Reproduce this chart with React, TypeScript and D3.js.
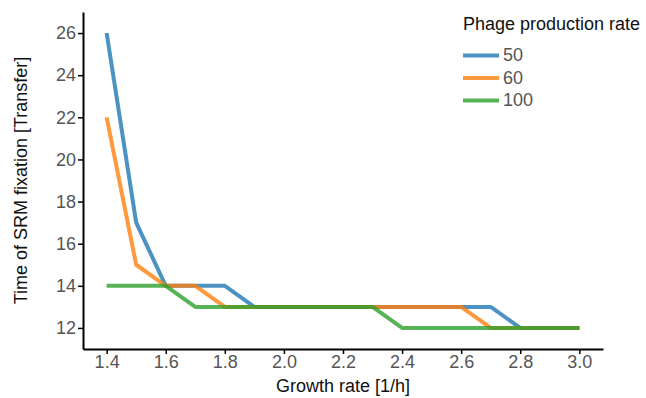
import * as d3 from "d3";
import { useEffect, useRef } from "react";

const GROWTH = [1.4, 1.5, 1.6, 1.7, 1.8, 1.9, 2.0, 2.1, 2.2, 2.3, 2.4, 2.5, 2.6, 2.7, 2.8, 2.9, 3.0];
const RATES = ["50", "60", "100"];
const FIX_50 = [26, 17, 14, 14, 14, 13, 13, 13, 13, 13, 13, 13, 13, 13, 12, 12, 12];
const FIX_60 = [22, 15, 14, 14, 13, 13, 13, 13, 13, 13, 13, 13, 13, 12, 12, 12, 12];
const FIX_100 = [14, 14, 14, 13, 13, 13, 13, 13, 13, 13, 12, 12, 12, 12, 12, 12, 12];
const X_TICKS = [1.4, 1.6, 1.8, 2.0, 2.2, 2.4, 2.6, 2.8, 3.0];
const Y_TICKS = [12, 14, 16, 18, 20, 22, 24, 26];
const COLORS = ["#1f77b4", "#ff7f0e", "#2ca02c"];

export default function App() {
  const ref = useRef<SVGSVGElement | null>(null);
  useEffect(() => {
    if (!ref.current) return;
    const width = 646;
    const height = 398;
    const margin = { top: 12, right: 43, bottom: 49, left: 83 };
    const svg = d3.select(ref.current);
    svg.selectAll("*").remove();
    const font = "'Liberation Sans', Arial, sans-serif";
    const fs = 18;

    const x = d3.scaleLinear().domain([1.32, 3.08]).range([margin.left, width - margin.right]);
    const y = d3.scaleLinear().domain([11, 27]).range([height - margin.bottom, margin.top]);

    const series = [FIX_50, FIX_60, FIX_100];
    const line = d3
      .line<number>()
      .x((_, i) => x(GROWTH[i]))
      .y((d) => y(d));

    svg
      .append("g")
      .selectAll("path")
      .data(series)
      .join("path")
      .attr("d", (d) => line(d))
      .attr("fill", "none")
      .attr("stroke", (_, i) => COLORS[i])
      .attr("stroke-opacity", 0.8)
      .attr("stroke-width", 4)
      .attr("stroke-linejoin", "round");

    const ax = d3.axisBottom(x).tickValues(X_TICKS).tickFormat(d3.format(".1f")).tickSizeInner(5).tickSizeOuter(0).tickPadding(1);
    const gx = svg.append("g").attr("transform", `translate(0,${height - margin.bottom})`).call(ax as any);
    const ay = d3.axisLeft(y).tickValues(Y_TICKS).tickSizeInner(5).tickSizeOuter(0).tickPadding(2);
    const gy = svg.append("g").attr("transform", `translate(${margin.left},0)`).call(ay as any);
    for (const g of [gx, gy]) {
      g.attr("font-size", fs).attr("font-family", font);
      g.select(".domain").attr("stroke", "#000").attr("stroke-width", 2);
      g.selectAll(".tick line").attr("stroke", "#000").attr("stroke-width", 1.5);
      g.selectAll(".tick text").attr("fill", "#555");
    }

    svg
      .append("text")
      .attr("x", (margin.left + width - margin.right) / 2)
      .attr("y", 392)
      .attr("text-anchor", "middle")
      .attr("font-size", fs)
      .attr("font-family", font)
      .attr("fill", "#111")
      .text("Growth rate [1/h]");

    svg
      .append("text")
      .attr("transform", `translate(27,${(margin.top + height - margin.bottom) / 2}) rotate(-90)`)
      .attr("text-anchor", "middle")
      .attr("font-size", fs)
      .attr("font-family", font)
      .attr("fill", "#111")
      .text("Time of SRM fixation [Transfer]");

    const legend = svg.append("g").attr("transform", "translate(463,0)");
    legend
      .append("text")
      .attr("x", 0)
      .attr("y", 30)
      .attr("font-size", fs)
      .attr("font-family", font)
      .attr("fill", "#111")
      .text("Phage production rate");
    const items = legend
      .selectAll("g.item")
      .data(RATES)
      .join("g")
      .attr("class", "item")
      .attr("transform", (_, i) => `translate(0,${55.5 + i * 22.5})`);
    items
      .append("line")
      .attr("x1", 0)
      .attr("x2", 36)
      .attr("stroke", (_, i) => COLORS[i])
      .attr("stroke-opacity", 0.8)
      .attr("stroke-width", 4);
    items
      .append("text")
      .attr("x", 40)
      .attr("y", 5.5)
      .attr("font-size", fs)
      .attr("font-family", font)
      .attr("fill", "#555")
      .text((d) => d);
  }, []);
  return (
    <svg
      ref={ref}
      width={646}
      height={398}
      style={{ position: "absolute", left: 0, top: 0, background: "#fff" }}
    />
  );
}
